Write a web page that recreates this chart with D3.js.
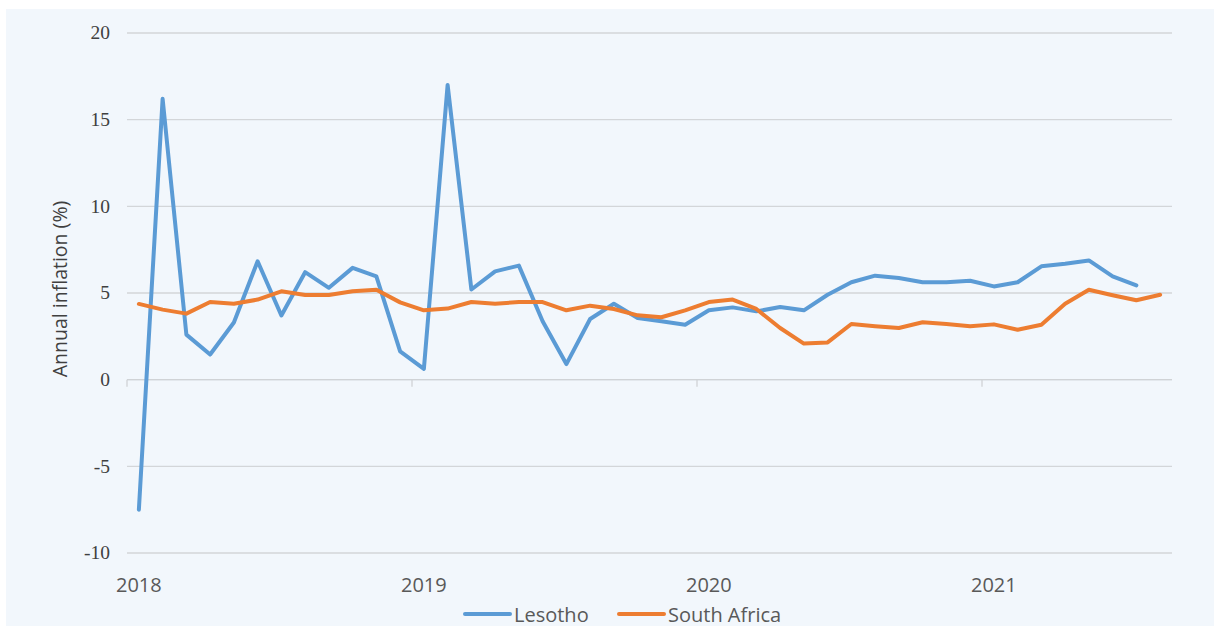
<!DOCTYPE html>
<html>
<head>
<meta charset="utf-8">
<script src="https://cdn.jsdelivr.net/npm/d3@7.9.0/dist/d3.min.js"></script>
<style>
  html, body { margin: 0; padding: 0; background: #ffffff; }
  svg { display: block; }
  .ytick text { font-family: "Liberation Serif", serif; font-size: 19.5px; fill: #404040; }
  .xtick text { font-family: "Open Sans", sans-serif; font-size: 20px; fill: #595959; }
  .legend text { font-family: "Open Sans", sans-serif; font-size: 20px; fill: #595959; }
</style>
</head>
<body>
<svg id="chart" width="1214" height="627"></svg>
<script>
const years = ['2018', '2019', '2020', '2021'];
const months = d3.range(44); // Jan 2018 .. Aug 2021

const lesotho = [
  -7.5, 16.2, 2.6, 1.45, 3.3, 6.83, 3.7, 6.2, 5.3, 6.45, 5.96, 1.63,
  0.62, 17.0, 5.2, 6.25, 6.58, 3.37, 0.9, 3.5, 4.38, 3.56, 3.37, 3.17,
  4.0, 4.17, 3.94, 4.19, 4.0, 4.9, 5.62, 6.0, 5.87, 5.62, 5.62, 5.71,
  5.38, 5.62, 6.54, 6.69, 6.88, 5.96, 5.44
];
const southAfrica = [
  4.37, 4.04, 3.81, 4.48, 4.38, 4.62, 5.1, 4.88, 4.88, 5.1, 5.19, 4.46,
  4.0, 4.1, 4.48, 4.38, 4.48, 4.48, 4.0, 4.27, 4.08, 3.71, 3.6, 4.0,
  4.48, 4.62, 4.08, 2.98, 2.08, 2.15, 3.21, 3.08, 2.98, 3.31, 3.21, 3.08,
  3.19, 2.88, 3.17, 4.38, 5.19, 4.87, 4.58, 4.9
];
const yTicks = [-10, -5, 0, 5, 10, 15, 20];

const series = [
  { name: 'Lesotho', values: lesotho, color: '#5b9bd5' },
  { name: 'South Africa', values: southAfrica, color: '#ed7d31' }
];

const svg = d3.select('#chart');
const plotLeft = 127, plotRight = 1172, plotTop = 33, plotBottom = 553;

svg.append('rect')
  .attr('x', 6).attr('y', 9)
  .attr('width', 1208).attr('height', 617)
  .attr('fill', '#f2f7fc');

const x = d3.scaleBand().domain(months).range([plotLeft, plotRight]);
const y = d3.scaleLinear().domain([-10, 20]).range([plotBottom, plotTop]);

// gridlines + y labels
const yg = svg.append('g').attr('class', 'ytick');
yTicks.forEach((t) => {
  yg.append('line')
    .attr('x1', plotLeft).attr('x2', plotRight)
    .attr('y1', y(t)).attr('y2', y(t))
    .attr('stroke', '#d3d6d9').attr('stroke-width', 1.3);
  yg.append('text')
    .attr('x', 110).attr('y', y(t))
    .attr('dy', '0.33em')
    .attr('text-anchor', 'end')
    .text(t);
});

// category axis on zero line
svg.append('line')
  .attr('x1', plotLeft).attr('x2', plotRight)
  .attr('y1', y(0)).attr('y2', y(0))
  .attr('stroke', '#d0d3d6').attr('stroke-width', 1.3);

const xg = svg.append('g').attr('class', 'xtick');
years.forEach((yr, i) => {
  const bx = x(i * 12);
  xg.append('line')
    .attr('x1', bx).attr('x2', bx)
    .attr('y1', y(0)).attr('y2', y(0) + 7)
    .attr('stroke', '#d0d3d6').attr('stroke-width', 1.3);
  xg.append('text')
    .attr('x', bx + x.bandwidth() / 2)
    .attr('y', 592)
    .attr('text-anchor', 'middle')
    .text(yr);
});

svg.append('text')
  .attr('transform', 'translate(67,289) rotate(-90)')
  .attr('text-anchor', 'middle')
  .attr('font-family', '"Open Sans", sans-serif')
  .attr('font-size', 19.5)
  .attr('fill', '#404040')
  .text('Annual inflation (%)');

const line = d3.line()
  .x((d, i) => x(i) + x.bandwidth() / 2)
  .y((d) => y(d));

series.forEach((s) => {
  svg.append('path')
    .datum(s.values)
    .attr('d', line)
    .attr('fill', 'none')
    .attr('stroke', s.color)
    .attr('stroke-width', 4)
    .attr('stroke-linejoin', 'round')
    .attr('stroke-linecap', 'round');
});

// legend
const legend = svg.append('g').attr('class', 'legend');
const legendPos = [465, 619];
series.forEach((s, i) => {
  const lx = legendPos[i];
  legend.append('line')
    .attr('x1', lx).attr('x2', lx + 45)
    .attr('y1', 614).attr('y2', 614)
    .attr('stroke', s.color).attr('stroke-width', 4)
    .attr('stroke-linecap', 'round');
  legend.append('text')
    .attr('x', lx + 49).attr('y', 622)
    .text(s.name);
});
</script>
</body>
</html>
